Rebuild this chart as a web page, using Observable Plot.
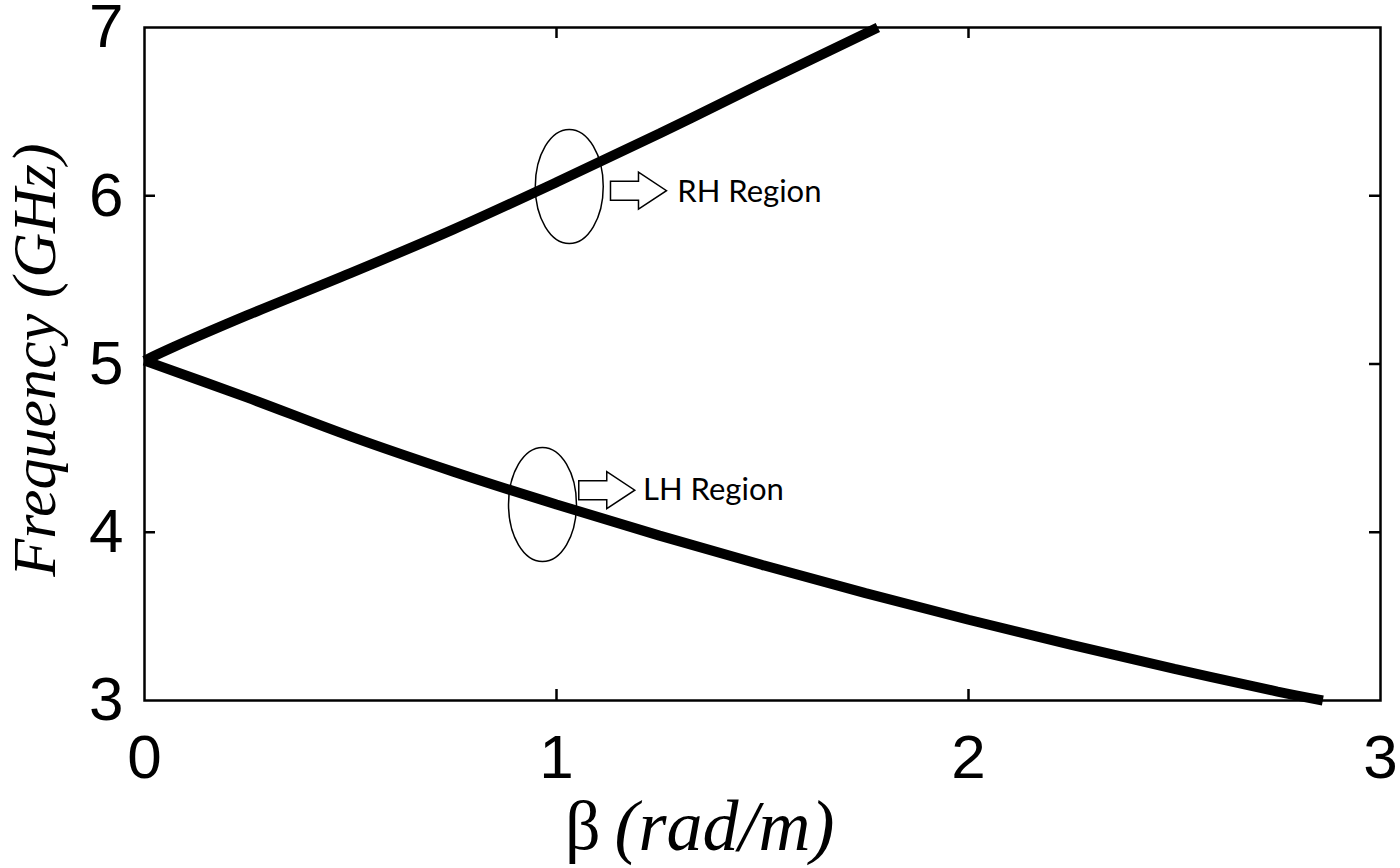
<!DOCTYPE html>
<html>
<head>
<meta charset="utf-8">
<script src="https://cdn.jsdelivr.net/npm/d3@7"></script>
<script src="https://cdn.jsdelivr.net/npm/@observablehq/plot@0.6"></script>
<style>
  html, body { margin: 0; padding: 0; background: #fff; }
  #chart { width: 1400px; height: 868px; }
</style>
</head>
<body>
<div id="chart"></div>
<script>
// ---- data ----
const upperBeta = [0, 0.07, 0.25, 0.5, 0.75, 1.0, 1.25, 1.5, 1.78];
const upperFreq = [5.02, 5.10, 5.29, 5.54, 5.80, 6.08, 6.37, 6.67, 7.0];
const lowerBeta = [0, 0.25, 0.5, 0.75, 1.0, 1.25, 1.5, 1.75, 2.0, 2.25, 2.5, 2.75, 2.86];
const lowerFreq = [5.02, 4.80, 4.57, 4.36, 4.165, 3.98, 3.805, 3.638, 3.48, 3.33, 3.188, 3.053, 3.0];

const xTicks = [0, 1, 2, 3];
const yTicks = [3, 4, 5, 6, 7];

const annoLabels = ["RH Region", "LH Region"];
const ellipseBeta = [1.031, 0.966];
const ellipseFreq = [6.055, 4.165];
const arrowBeta = [1.199, 1.122];
const arrowFreq = [6.03, 4.25];
const labelBeta = [1.293, 1.21];
const labelFreq = [6.02, 4.25];

const xLabelSymbol = "β";
const xLabelUnit = "(rad/m)";
const yLabel = "Frequency (GHz)";

// ---- build tables ----
const upper = upperBeta.map((b, i) => ({beta: b, freq: upperFreq[i]}));
const lower = lowerBeta.map((b, i) => ({beta: b, freq: lowerFreq[i]}));
const ellipses = ellipseBeta.map((b, i) => ({beta: b, freq: ellipseFreq[i]}));
const arrows = arrowBeta.map((b, i) => ({beta: b, freq: arrowFreq[i]}));
const labels = labelBeta.map((b, i) => ({beta: b, freq: labelFreq[i], text: annoLabels[i]}));

// layout
const W = 1400, H = 868;
const mL = 144, mR = 20, mT = 27, mB = 168;
const xDom = [0, 3], yDom = [3, 7];
const tickPx = 11;
const tickDX = tickPx * (xDom[1] - xDom[0]) / (W - mL - mR);
const tickDY = tickPx * (yDom[1] - yDom[0]) / (H - mT - mB);
const serif = "'Liberation Serif', 'Times New Roman', serif";

// custom symbols
const ellipseSymbol = {
  draw(ctx, size) {
    const r = Math.sqrt(size / Math.PI);
    const ry = r, rx = r * 0.596, k = 0.5523;
    ctx.moveTo(rx, 0);
    ctx.bezierCurveTo(rx, k * ry, k * rx, ry, 0, ry);
    ctx.bezierCurveTo(-k * rx, ry, -rx, k * ry, -rx, 0);
    ctx.bezierCurveTo(-rx, -k * ry, -k * rx, -ry, 0, -ry);
    ctx.bezierCurveTo(k * rx, -ry, rx, -k * ry, rx, 0);
    ctx.closePath();
  }
};
const arrowSymbol = {
  draw(ctx, size) {
    const r = Math.sqrt(size / Math.PI);
    const h1 = 0.34 * r, h2 = 0.66 * r;
    ctx.moveTo(-r, -h1);
    ctx.lineTo(0, -h1);
    ctx.lineTo(0, -h2);
    ctx.lineTo(r, 0);
    ctx.lineTo(0, h2);
    ctx.lineTo(0, h1);
    ctx.lineTo(-r, h1);
    ctx.closePath();
  }
};

const chart = Plot.plot({
  width: W, height: H,
  marginLeft: mL, marginRight: mR, marginTop: mT, marginBottom: mB,
  style: {fontFamily: "'Liberation Sans', Arial, sans-serif", fontSize: "62px", background: "#fff", color: "#000", overflow: "visible"},
  x: {domain: xDom, ticks: xTicks, tickSize: 0, tickPadding: 33, label: null, tickFormat: d => String(d)},
  y: {domain: yDom, ticks: yTicks, tickSize: 0, tickPadding: 21, label: null, tickFormat: d => String(d)},
  marks: [
    // inward ticks on four sides
    Plot.ruleX(xTicks.slice(1, -1), {x: d => d, y1: yDom[0], y2: yDom[0] + tickDY, stroke: "#000", strokeWidth: 2.5}),
    Plot.ruleX(xTicks.slice(1, -1), {x: d => d, y1: yDom[1], y2: yDom[1] - tickDY, stroke: "#000", strokeWidth: 2.5}),
    Plot.ruleY(yTicks.slice(1, -1), {y: d => d, x1: xDom[0], x2: xDom[0] + tickDX, stroke: "#000", strokeWidth: 2.5}),
    Plot.ruleY(yTicks.slice(1, -1), {y: d => d, x1: xDom[1], x2: xDom[1] - tickDX, stroke: "#000", strokeWidth: 2.5}),
    Plot.frame({stroke: "#000", strokeWidth: 2.5}),
    Plot.line(upper, {x: "beta", y: "freq", curve: "catmull-rom", stroke: "#000", strokeWidth: 10, strokeLinecap: "butt", strokeLinejoin: "miter"}),
    Plot.line(lower, {x: "beta", y: "freq", curve: "catmull-rom", stroke: "#000", strokeWidth: 10, strokeLinecap: "butt", strokeLinejoin: "miter"}),
    Plot.dot(ellipses, {x: "beta", y: "freq", symbol: ellipseSymbol, r: 57, fill: "none", stroke: "#000", strokeWidth: 1.5}),
    Plot.dot(arrows, {x: "beta", y: "freq", symbol: arrowSymbol, r: 28, fill: "#fff", stroke: "#000", strokeWidth: 1.5}),
    Plot.text(labels, {x: "beta", y: "freq", text: "text", textAnchor: "start", lineAnchor: "middle", fontSize: 31, fontFamily: "Lato, 'Open Sans', sans-serif", fill: "#000"}),
    // axis titles
    Plot.text([yLabel], {frameAnchor: "left", rotate: -90, dx: -109, dy: -4, lineAnchor: "middle", textAnchor: "middle", fontSize: 62, fontFamily: serif, fontStyle: "italic", fill: "#000"}),
    Plot.text([xLabelSymbol], {frameAnchor: "bottom", dx: -162, dy: 126, lineAnchor: "middle", textAnchor: "end", fontSize: 70, fontFamily: serif, fill: "#000"}),
    Plot.text([xLabelUnit], {frameAnchor: "bottom", dx: -148, dy: 126, lineAnchor: "middle", textAnchor: "start", fontSize: 72, fontFamily: serif, fontStyle: "italic", fill: "#000"})
  ]
});
document.getElementById("chart").append(chart);
</script>
</body>
</html>
